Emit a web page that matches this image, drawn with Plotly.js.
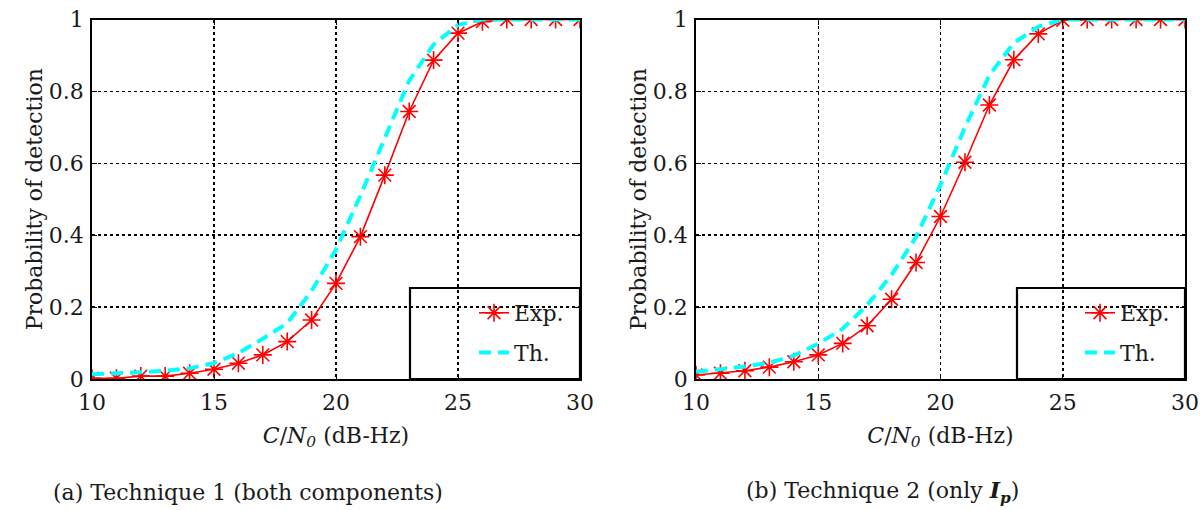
<!DOCTYPE html>
<html>
<head>
<meta charset="utf-8">
<script src="https://cdn.plot.ly/plotly-3.0.1.min.js"></script>
<style>html,body{margin:0;padding:0;background:#fff;}#chart{width:1200px;height:510px;}</style>
</head>
<body>
<div id="chart"></div>
<script>
var cn0 = [10,11,12,13,14,15,16,17,18,19,20,21,22,23,24,25,26,27,28,29,30];
var exp1 = [0.002,0.002,0.008,0.008,0.016,0.027,0.044,0.067,0.104,0.164,0.266,0.396,0.567,0.744,0.887,0.962,0.994,1,1,1,1];
var th1  = [0.013,0.015,0.019,0.023,0.030,0.044,0.072,0.112,0.155,0.245,0.360,0.510,0.670,0.830,0.930,0.985,1,1,1,1,1];
var exp2 = [0.011,0.016,0.023,0.033,0.048,0.067,0.099,0.148,0.222,0.324,0.452,0.603,0.762,0.888,0.960,0.998,1,1,1,1,1];
var th2  = [0.020,0.027,0.035,0.045,0.065,0.098,0.140,0.205,0.290,0.395,0.540,0.700,0.845,0.935,0.980,1,1,1,1,1,1];
var yTicks = [0,0.2,0.4,0.6,0.8,1];
var yTickText = ['0','0.2','0.4','0.6','0.8','1'];
var xTicks = [10,15,20,25,30];
var seriesNames = ['Exp.','Th.'];
var captions = ['(a) Technique 1 (both components)','(b) Technique 2 (only <b><i>I<sub>p</sub></i></b>)'];
var yTitle = 'Probability of detection';
var xTitle = '<i>C</i>/<i>N</i><sub><i>0</i></sub> (dB-Hz)';

var FONT = 'DejaVu Serif';
var TXT = '#1a1a1a';
var FS = 22;

function expTrace(y, xa, ya, leg){
  return {x: cn0, y: y, xaxis: xa, yaxis: ya, legend: leg, legendgroup: 'e', name: seriesNames[0], type: 'scatter', mode: 'lines+markers',
    line: {color: '#ff0000', width: 1.6},
    marker: {symbol: 'asterisk-open', size: 15, color: '#ff0000', line: {color: '#ff0000', width: 1.6}}};
}
function thTrace(y, xa, ya, leg){
  return {x: cn0, y: y, xaxis: xa, yaxis: ya, legend: leg, legendgroup: 't', name: seriesNames[1], type: 'scatter', mode: 'lines',
    line: {color: '#00ffff', width: 4, dash: '12px,7px'}};
}
var data = [
  expTrace(exp1,'x','y','legend'), thTrace(th1,'x','y','legend'),
  expTrace(exp2,'x2','y2','legend2'), thTrace(th2,'x2','y2','legend2')
];

function xAxis(dom, anchor){
  return {domain: dom, anchor: anchor, range: [10,30], tickvals: xTicks, ticktext: xTicks.map(String),
    showgrid: true, gridcolor: '#000', griddash: 'dot', gridwidth: 1.5,
    showline: true, linecolor: '#000', linewidth: 1.8, mirror: 'ticks', ticks: 'inside', ticklen: 5, tickcolor: '#000',
    zeroline: false, tickfont: {family: FONT, size: FS, color: TXT}, ticklabelstandoff: 3,
    title: {text: xTitle, font: {family: FONT, size: FS, color: TXT}, standoff: 13}};
}
function yAxis(dom, anchor){
  return {domain: dom, anchor: anchor, range: [0,1], tickvals: yTicks, ticktext: yTickText,
    showgrid: true, gridcolor: '#000', griddash: 'dot', gridwidth: 1.5,
    showline: true, linecolor: '#000', linewidth: 1.8, mirror: 'ticks', ticks: 'inside', ticklen: 5, tickcolor: '#000',
    zeroline: false, tickfont: {family: FONT, size: FS, color: TXT}, ticklabelstandoff: 2,
    title: {text: yTitle, font: {family: FONT, size: FS, color: TXT}, standoff: 0}};
}
var yd = [1-379/510, 1-19.5/510];
function legendAt(xl){
  return {x: xl, y: 1-333/510, xanchor: 'left', yanchor: 'middle', bgcolor: 'rgba(0,0,0,0)', borderwidth: 0,
    font: {family: FONT, size: FS, color: TXT}, traceorder: 'grouped', tracegroupgap: 8};
}
function boxShape(x0, x1){
  return {type: 'rect', xref: 'paper', yref: 'paper', x0: x0/1200, x1: x1/1200, y0: 1-379/510, y1: 1-288/510,
    fillcolor: '#fff', line: {color: '#000', width: 2.2}, layer: 'between'};
}
var layout = {
  width: 1200, height: 510, margin: {l: 0, r: 0, t: 0, b: 0},
  paper_bgcolor: '#fff', plot_bgcolor: '#fff', showlegend: true,
  xaxis: xAxis([92/1200, 580/1200], 'y'),
  yaxis: yAxis(yd, 'x'),
  xaxis2: xAxis([696/1200, 1185/1200], 'y2'),
  yaxis2: yAxis(yd, 'x2'),
  legend: legendAt(474/1200),
  legend2: legendAt(1080/1200),
  shapes: [boxShape(410, 580), boxShape(1017, 1185)],
  annotations: [
    {text: captions[0], xref: 'paper', yref: 'paper', x: 248/1200, y: 1-492/510, xanchor: 'center', yanchor: 'middle', showarrow: false, font: {family: FONT, size: FS, color: TXT}},
    {text: captions[1], xref: 'paper', yref: 'paper', x: 882/1200, y: 1-492/510, xanchor: 'center', yanchor: 'middle', showarrow: false, font: {family: FONT, size: FS, color: TXT}}
  ]
};
Plotly.newPlot('chart', data, layout, {staticPlot: true, displayModeBar: false});
</script>
</body>
</html>
